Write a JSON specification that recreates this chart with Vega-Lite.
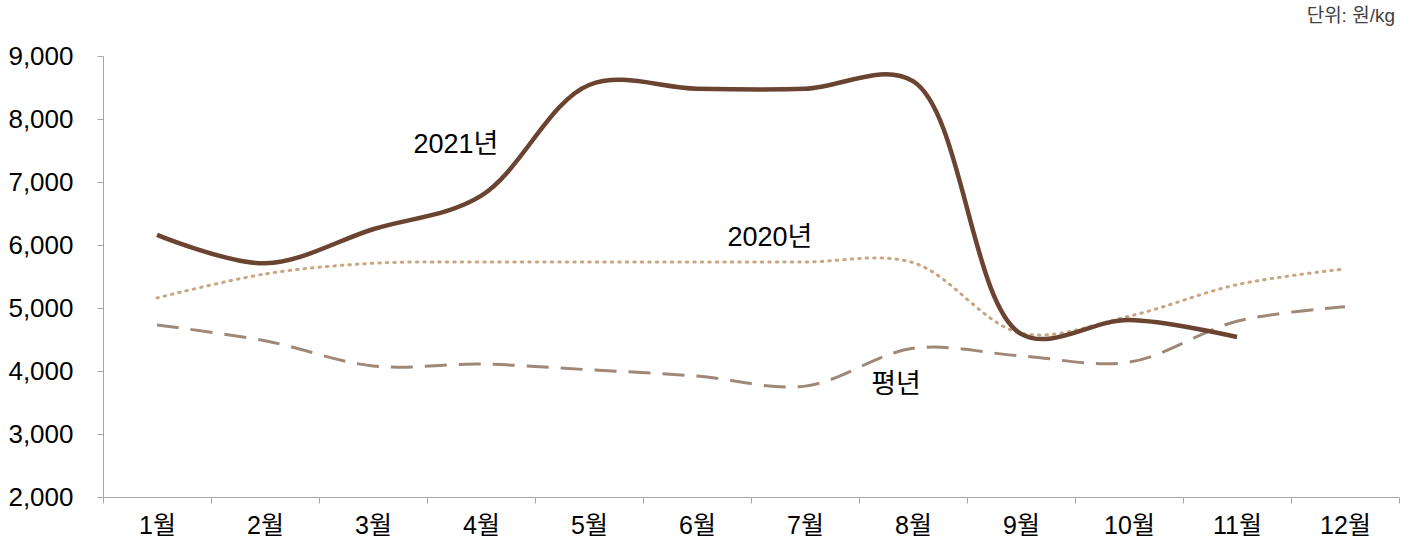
{
  "$schema": "https://vega.github.io/schema/vega-lite/v6.json",
  "width": 1296,
  "height": 441,
  "autosize": {"type": "none"},
  "padding": {"left": 103, "top": 56, "right": 12, "bottom": 49},
  "background": "white",
  "config": {
    "view": {"stroke": null},
    "font": "Liberation Sans, Noto Sans CJK KR, sans-serif"
  },
  "title": {
    "text": "단위: 원/kg",
    "anchor": "end",
    "frame": "group",
    "fontSize": 19,
    "fontWeight": "normal",
    "color": "#404040",
    "offset": 17,
    "dx": -4
  },
  "datasets": {
    "series": [
      {"month": "1월", "series": "2021년", "value": 6160},
      {"month": "2월", "series": "2021년", "value": 5710},
      {"month": "3월", "series": "2021년", "value": 6250},
      {"month": "4월", "series": "2021년", "value": 6780},
      {"month": "5월", "series": "2021년", "value": 8540},
      {"month": "6월", "series": "2021년", "value": 8480},
      {"month": "7월", "series": "2021년", "value": 8480},
      {"month": "8월", "series": "2021년", "value": 8600},
      {"month": "9월", "series": "2021년", "value": 4590},
      {"month": "10월", "series": "2021년", "value": 4810},
      {"month": "11월", "series": "2021년", "value": 4540},
      {"month": "1월", "series": "2020년", "value": 5160},
      {"month": "2월", "series": "2020년", "value": 5540},
      {"month": "3월", "series": "2020년", "value": 5710},
      {"month": "4월", "series": "2020년", "value": 5730},
      {"month": "5월", "series": "2020년", "value": 5730},
      {"month": "6월", "series": "2020년", "value": 5730},
      {"month": "7월", "series": "2020년", "value": 5730},
      {"month": "8월", "series": "2020년", "value": 5720},
      {"month": "9월", "series": "2020년", "value": 4600},
      {"month": "10월", "series": "2020년", "value": 4870},
      {"month": "11월", "series": "2020년", "value": 5370},
      {"month": "12월", "series": "2020년", "value": 5620},
      {"month": "1월", "series": "평년", "value": 4730},
      {"month": "2월", "series": "평년", "value": 4480},
      {"month": "3월", "series": "평년", "value": 4080},
      {"month": "4월", "series": "평년", "value": 4110},
      {"month": "5월", "series": "평년", "value": 4020},
      {"month": "6월", "series": "평년", "value": 3920},
      {"month": "7월", "series": "평년", "value": 3760},
      {"month": "8월", "series": "평년", "value": 4360},
      {"month": "9월", "series": "평년", "value": 4240},
      {"month": "10월", "series": "평년", "value": 4140},
      {"month": "11월", "series": "평년", "value": 4790},
      {"month": "12월", "series": "평년", "value": 5020}
    ],
    "labels": [
      {"month": "4월", "value": 7590, "label": "2021년"},
      {"month": "7월", "value": 6110, "label": "2020년"},
      {"month": "8월", "value": 3780, "label": "평년"}
    ]
  },
  "encoding": {
    "x": {
      "field": "month",
      "type": "ordinal",
      "sort": ["1월","2월","3월","4월","5월","6월","7월","8월","9월","10월","11월","12월"],
      "scale": {"type": "band", "paddingInner": 0, "paddingOuter": 0,
        "domain": ["1월","2월","3월","4월","5월","6월","7월","8월","9월","10월","11월","12월"]},
      "bandPosition": 0.5,
      "axis": {
        "title": null,
        "tickBand": "extent",
        "labelAngle": 0,
        "labelFontSize": 25,
        "labelColor": "#000000",
        "labelPadding": 10,
        "domainColor": "#a6a6a6",
        "tickColor": "#a6a6a6",
        "tickSize": 6,
        "grid": false
      }
    },
    "y": {
      "field": "value",
      "type": "quantitative",
      "scale": {"domain": [2000, 9000], "nice": false, "zero": false},
      "axis": {
        "title": null,
        "values": [2000,3000,4000,5000,6000,7000,8000,9000],
        "format": ",d",
        "labelFontSize": 26,
        "labelColor": "#000000",
        "labelPadding": 24,
        "domainColor": "#a6a6a6",
        "tickColor": "#a6a6a6",
        "tickSize": 6,
        "grid": false
      }
    }
  },
  "layer": [
    {
      "data": {"name": "series"},
      "transform": [{"filter": "datum.series === '평년'"}],
      "mark": {"type": "line", "interpolate": "catmull-rom", "stroke": "#a08878", "strokeWidth": 3, "strokeDash": [22, 12]}
    },
    {
      "data": {"name": "series"},
      "transform": [{"filter": "datum.series === '2020년'"}],
      "mark": {"type": "line", "interpolate": "catmull-rom", "stroke": "#c9a682", "strokeWidth": 3, "strokeDash": [1.5, 6], "strokeCap": "round"}
    },
    {
      "data": {"name": "series"},
      "transform": [{"filter": "datum.series === '2021년'"}],
      "mark": {"type": "line", "interpolate": "catmull-rom", "stroke": "#6b4431", "strokeWidth": 4.5}
    },
    {
      "data": {"name": "labels"},
      "transform": [{"filter": "datum.label === '2021년'"}],
      "mark": {"type": "text", "fontSize": 27, "color": "#000000", "baseline": "middle", "align": "center", "dx": -25},
      "encoding": {"text": {"field": "label"}}
    },
    {
      "data": {"name": "labels"},
      "transform": [{"filter": "datum.label === '2020년'"}],
      "mark": {"type": "text", "fontSize": 27, "color": "#000000", "baseline": "middle", "align": "center", "dx": -35},
      "encoding": {"text": {"field": "label"}}
    },
    {
      "data": {"name": "labels"},
      "transform": [{"filter": "datum.label === '평년'"}],
      "mark": {"type": "text", "fontSize": 27, "color": "#000000", "baseline": "middle", "align": "center", "dx": -17},
      "encoding": {"text": {"field": "label"}}
    }
  ]
}
